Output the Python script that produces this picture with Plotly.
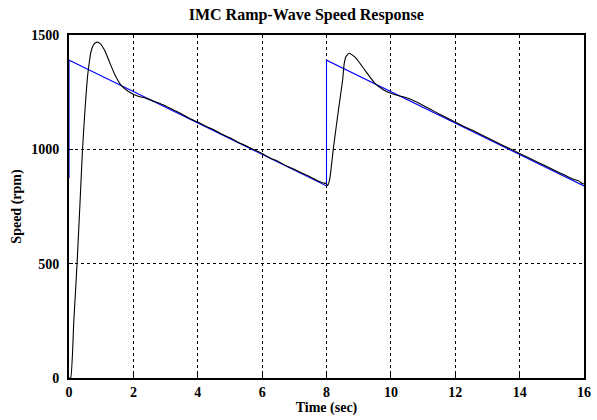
import plotly.graph_objects as go

# Reference (commanded) speed: ramp wave
ref_t = [0.0, 0.0, 8.0, 8.0, 16.0]
ref_rpm = [873, 1390, 840, 1390, 840]

# Measured speed response
resp_t = [0.0, 0.05, 0.15, 0.25, 0.34, 0.42, 0.50, 0.57, 0.62, 0.68, 0.75, 0.82, 0.88, 0.96,
          1.11, 1.26, 1.41, 1.62, 1.87, 2.13, 2.38, 2.70, 3.00, 3.25, 3.50, 3.75,
          4.00, 4.25, 4.50, 4.75, 5.00, 5.25, 5.50, 5.75, 6.00, 6.25, 6.50, 6.75, 7.00,
          7.25, 7.50, 7.65, 7.80, 7.90, 8.00, 8.03, 8.10, 8.21, 8.37, 8.50, 8.55, 8.60,
          8.70, 8.80, 8.93, 9.23, 9.49, 9.75, 10.00, 10.25, 10.46, 10.70, 10.92,
          11.20, 11.50, 11.75, 12.00, 12.25, 12.50, 12.75, 13.00, 13.25, 13.50, 13.75,
          14.00, 14.25, 14.50, 14.75, 15.00, 15.25, 15.50, 15.70, 15.85, 15.93, 16.00]
resp_rpm = [0, 0, 250, 500, 760, 1000, 1180, 1310, 1370, 1425, 1454, 1466, 1469, 1463,
            1432, 1381, 1331, 1280, 1251, 1233, 1224, 1207, 1190, 1172, 1155, 1135,
            1119, 1101, 1086, 1066, 1051, 1031, 1016, 998, 982, 962, 947, 928, 913,
            895, 879, 868, 858, 853, 850, 841, 870, 1000, 1171, 1302, 1375, 1404,
            1420, 1413, 1397, 1339, 1291, 1262, 1245, 1234, 1227, 1214, 1198,
            1177, 1155, 1137, 1119, 1101, 1086, 1068, 1051, 1033, 1016, 999,
            982, 965, 948, 931, 914, 897, 880, 868, 861, 852, 848]

x_ticks = [0, 2, 4, 6, 8, 10, 12, 14, 16]
y_ticks = [0, 500, 1000, 1500]

FONT = "Liberation Serif, Times New Roman, serif"

fig = go.Figure()
fig.add_trace(go.Scatter(x=ref_t, y=ref_rpm, mode="lines",
                         line=dict(color="#0000ff", width=1.1), showlegend=False))
fig.add_trace(go.Scatter(x=resp_t, y=resp_rpm, mode="lines",
                         line=dict(color="#000000", width=1.1, shape="spline", smoothing=0.5),
                         showlegend=False))

fig.update_layout(
    width=597, height=420,
    margin=dict(l=69, r=6, t=35, b=42),
    paper_bgcolor="white", plot_bgcolor="white",
    font=dict(family=FONT, size=14, color="black", weight="bold"),
    title=dict(text="IMC Ramp-Wave Speed Response", x=0.513, xanchor="center",
               y=0.978, yanchor="top",
               font=dict(family=FONT, size=16, color="black", weight="bold")),
    xaxis=dict(
        range=[0, 16], tickvals=x_ticks, ticktext=[str(v) for v in x_ticks],
        showgrid=True, gridcolor="black", gridwidth=0.6, griddash="dot",
        showline=True, linecolor="black", linewidth=2, mirror=True,
        ticks="inside", ticklen=4, tickcolor="black", zeroline=False,
        title=dict(text="Time (sec)", standoff=0,
                   font=dict(family=FONT, size=14, color="black", weight="bold")),
        tickfont=dict(family=FONT, size=14, color="black", weight="bold"),
    ),
    yaxis=dict(
        range=[0, 1500], tickvals=y_ticks, ticktext=[str(v) for v in y_ticks],
        showgrid=True, gridcolor="black", gridwidth=0.6, griddash="dot",
        showline=True, linecolor="black", linewidth=2, mirror=True,
        ticks="inside", ticklen=4, tickcolor="black", zeroline=False,
        ticklabelstandoff=5,
        title=dict(text="Speed (rpm)", standoff=6,
                   font=dict(family=FONT, size=14, color="black", weight="bold")),
        tickfont=dict(family=FONT, size=14, color="black", weight="bold"),
    ),
)

fig.write_html("out.html")
